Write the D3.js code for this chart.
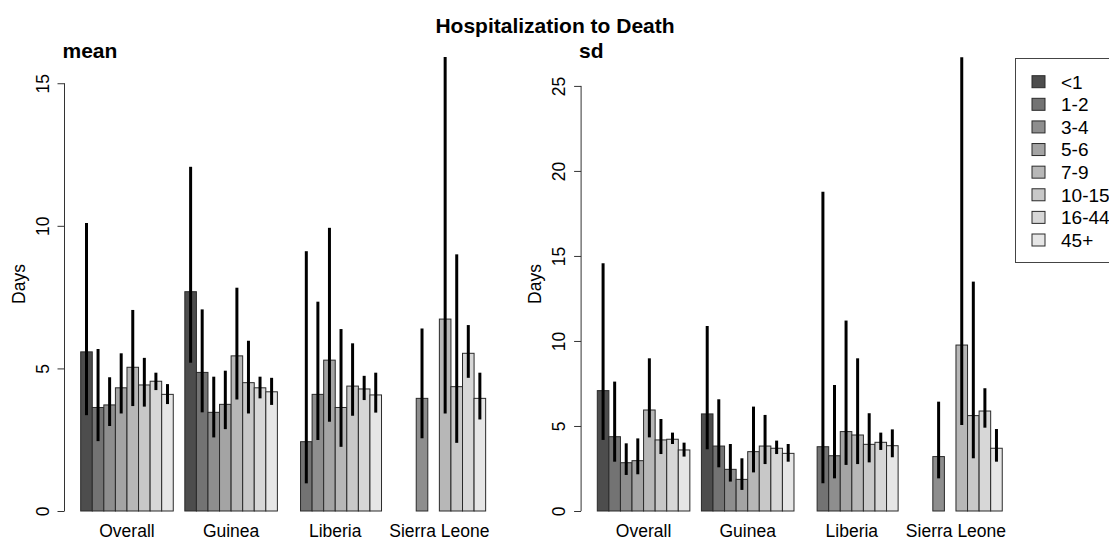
<!DOCTYPE html>
<html>
<head>
<meta charset="utf-8">
<script src="https://cdn.jsdelivr.net/npm/d3@7"></script>
<style>
  html, body { margin: 0; padding: 0; background: #fff; }
  svg { display: block; }
  text { font-family: "Liberation Sans", Arial, Helvetica, sans-serif; fill: #000; }
</style>
</head>
<body>
<svg id="chart" width="1109" height="543"></svg>
<script>
// Age groups and countries
const ageGroups = ["<1", "1-2", "3-4", "5-6", "7-9", "10-15", "16-44", "45+"];
const countries = ["Overall", "Guinea", "Liberia", "Sierra Leone"];
const barFills = ["#4d4d4d", "#737373", "#8e8e8e", "#a4a4a4", "#b7b7b7", "#c8c8c8", "#d7d7d7", "#e6e6e6"];

// Mean hospitalization-to-death time (days), rows = countries, columns = age groups
const meanValues = [
  [5.58, 3.63, 3.72, 4.32, 5.04, 4.42, 4.55, 4.09],
  [7.69, 4.86, 3.46, 3.74, 5.44, 4.50, 4.32, 4.18],
  [null, 2.43, 4.09, 5.29, 3.63, 4.38, 4.28, 4.07],
  [null, null, 3.95, null, 6.73, 4.36, 5.53, 3.95]
];
const meanLower = [
  [3.36, 2.45, 2.98, 3.42, 3.68, 3.66, 4.24, 3.75],
  [5.20, 3.46, 2.58, 2.87, 3.91, 3.42, 3.95, 3.72],
  [null, 0.97, 2.49, 3.13, 2.25, 3.34, 3.89, 3.45],
  [null, null, 2.55, null, 3.42, 2.39, 4.67, 3.21]
];
const meanUpper = [
  [10.10, 5.68, 4.69, 5.53, 7.05, 5.37, 4.85, 4.45],
  [12.07, 7.07, 4.71, 4.92, 7.83, 5.97, 4.71, 4.67],
  [null, 9.11, 7.34, 9.93, 6.38, 5.88, 4.74, 4.85],
  [null, null, 6.40, null, 15.92, 9.00, 6.52, 4.85]
];

// Standard deviation (days)
const sdValues = [
  [7.08, 4.37, 2.84, 2.96, 5.94, 4.18, 4.22, 3.59],
  [5.71, 3.82, 2.45, 1.86, 3.49, 3.82, 3.69, 3.39],
  [null, 3.78, 3.25, 4.67, 4.47, 3.92, 4.04, 3.84],
  [null, null, 3.20, null, 9.76, 5.61, 5.88, 3.69]
];
const sdLower = [
  [4.18, 2.90, 2.12, 2.16, 4.33, 3.35, 3.94, 3.20],
  [3.63, 2.57, 1.73, 1.24, 2.27, 2.76, 3.35, 2.90],
  [null, 1.63, 1.92, 2.71, 2.76, 2.86, 3.59, 3.16],
  [null, null, 1.92, null, 5.06, 3.10, 4.90, 2.90]
];
const sdUpper = [
  [14.57, 7.61, 3.98, 4.27, 8.98, 5.41, 4.61, 4.02],
  [10.88, 6.57, 3.94, 3.10, 6.14, 5.65, 4.14, 3.94],
  [null, 18.78, 7.41, 11.20, 8.98, 5.75, 4.61, 4.80],
  [null, null, 6.43, null, 26.69, 13.49, 7.22, 4.82]
];

const meanTicks = [0, 5, 10, 15];
const sdTicks = [0, 5, 10, 15, 20, 25];

const svg = d3.select("#chart");
const FONT = 17.5;

svg.append("text")
  .attr("x", 555).attr("y", 33)
  .attr("text-anchor", "middle")
  .style("font-size", "21px").style("font-weight", "bold")
  .text("Hospitalization to Death");

function drawPanel(opts) {
  const { left, title, values, lower, upper, ticks, yMax } = opts;
  const unit = 11.57;
  // bar slots: one empty slot before each country, 8 bars per country
  const x = d3.scaleLinear().domain([-0.4, 37.4]).range([left, left + 37.8 * unit]);
  const y = d3.scaleLinear().domain([0, yMax]).range([511, 57]);
  const g = svg.append("g");

  const bars = [];
  countries.forEach((c, ci) => {
    ageGroups.forEach((a, ai) => {
      const v = values[ci][ai];
      if (v == null) return;
      bars.push({ ci, ai, v, lo: lower[ci][ai], hi: upper[ci][ai], slot: 1 + ci * 9 + ai });
    });
  });

  g.selectAll("rect.bar").data(bars).join("rect")
    .attr("class", "bar")
    .attr("x", d => x(d.slot))
    .attr("width", d => x(d.slot + 1) - x(d.slot))
    .attr("y", d => y(d.v))
    .attr("height", d => y(0) - y(d.v))
    .attr("fill", d => barFills[d.ai])
    .attr("stroke", "#2a2a2a")
    .attr("stroke-width", 1);

  g.selectAll("line.err").data(bars).join("line")
    .attr("class", "err")
    .attr("x1", d => x(d.slot + 0.5)).attr("x2", d => x(d.slot + 0.5))
    .attr("y1", d => y(d.lo)).attr("y2", d => y(d.hi))
    .attr("stroke", "#000").attr("stroke-width", 3);

  // category labels
  g.selectAll("text.cat").data(countries).join("text")
    .attr("class", "cat")
    .attr("x", (c, ci) => x(1 + ci * 9 + 4))
    .attr("y", 537)
    .attr("text-anchor", "middle")
    .style("font-size", FONT + "px")
    .text(c => c);

  // y axis
  const axisX = x(-0.4);
  const ax = g.append("g").attr("transform", `translate(${axisX},0)`)
    .call(d3.axisLeft(y).tickValues(ticks).tickSize(7).tickSizeOuter(0));
  ax.select(".domain").remove();
  ax.selectAll(".tick line").attr("stroke", "#333");
  ax.selectAll(".tick text")
    .attr("x", null).attr("dy", null)
    .attr("text-anchor", "middle")
    .attr("transform", "translate(-16,0) rotate(-90)")
    .style("font-size", FONT + "px")
    .style("font-family", "\"Liberation Sans\", Arial, sans-serif")
    .attr("fill", "#000");
  ax.append("line")
    .attr("x1", 0).attr("x2", 0)
    .attr("y1", y(ticks[0])).attr("y2", y(ticks[ticks.length - 1]))
    .attr("stroke", "#333");

  g.append("text")
    .attr("transform", `translate(${axisX - 40},${(y(0) + y(yMax)) / 2}) rotate(-90)`)
    .attr("text-anchor", "middle")
    .style("font-size", FONT + "px")
    .text("Days");

  g.append("text")
    .attr("x", axisX - 2).attr("y", 58)
    .style("font-size", "21px").style("font-weight", "bold")
    .text(title);
}

drawPanel({ left: 64.5, title: "mean", values: meanValues, lower: meanLower, upper: meanUpper, ticks: meanTicks, yMax: 15.92 });
drawPanel({ left: 581.1, title: "sd", values: sdValues, lower: sdLower, upper: sdUpper, ticks: sdTicks, yMax: 26.7 });

// legend
const legend = svg.append("g");
legend.append("rect")
  .attr("x", 1015.5).attr("y", 58.5)
  .attr("width", 140).attr("height", 204)
  .attr("fill", "#fff").attr("stroke", "#444").attr("stroke-width", 1);
const rowY = d3.scaleLinear().domain([0, 7]).range([81.7, 240]);
const items = legend.selectAll("g.item").data(ageGroups).join("g").attr("class", "item");
items.append("rect")
  .attr("x", 1032).attr("y", (d, i) => rowY(i) - 6)
  .attr("width", 13).attr("height", 12)
  .attr("fill", (d, i) => barFills[i])
  .attr("stroke", "#2a2a2a");
items.append("text")
  .attr("x", 1061).attr("y", (d, i) => rowY(i))
  .attr("dy", "0.36em")
  .style("font-size", "19px")
  .text(d => d);
</script>
</body>
</html>
